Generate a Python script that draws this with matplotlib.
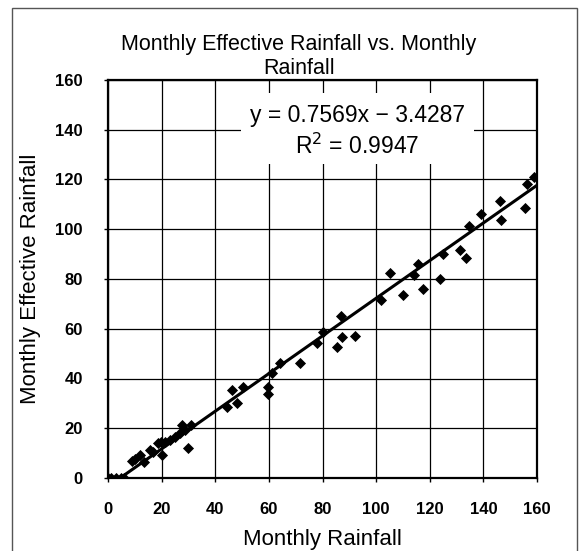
import matplotlib
matplotlib.use("Agg")
import matplotlib.pyplot as plt
from matplotlib.patches import Rectangle
import numpy as np

plt.rcParams['font.family'] = ['Liberation Sans', 'DejaVu Sans']

# Data (Monthly Rainfall vs Monthly Effective Rainfall)
rainfall = [0, 1, 3, 5, 6,
            8.8, 10.1, 11.9, 13.5, 15.7, 16.8, 18.8, 19.8, 20.0, 21.3, 23.1, 25.0, 26.9, 27.5, 28.7, 30.0, 30.8,
            44.3, 46.1, 48.0, 50.5, 59.8, 59.8, 61.1, 64.2, 71.6, 77.9, 80.0,
            85.4, 86.8, 87.2, 92.2, 101.9, 105.0, 110.0, 114.3, 115.8, 117.4, 123.7,
            124.9, 131.1, 133.5, 134.8, 139.2, 146.3, 146.6, 155.6, 156.2, 158.9]
effective = [0, 0, 0, 0, 0,
             6.8, 7.5, 9.2, 6.5, 11.2, 10.5, 13.9, 14.6, 9.2, 14.6, 15.3, 16.6, 18.0, 21.3, 19.3, 11.9, 21.3,
             28.6, 35.3, 30.0, 36.4, 36.7, 33.7, 42.3, 46.1, 46.3, 54.1, 58.6,
             52.7, 65.1, 56.7, 57.0, 71.5, 82.6, 73.5, 81.5, 86.2, 75.8, 80.2,
             90.2, 91.8, 88.6, 101.3, 106.0, 111.2, 103.9, 108.6, 118.1, 121.0]
slope = 0.7569
intercept = -3.4287
r2 = 0.9947
ticks = [0, 20, 40, 60, 80, 100, 120, 140, 160]

fig = plt.figure(figsize=(5.81, 5.51), dpi=100)
ax = fig.add_axes([108/581, 1-478/551, (537-108)/581, (478-80)/551])

ax.scatter(rainfall, effective, marker='D', s=32, color='black', zorder=3, linewidths=0)
xl = np.array([0, 160])
ax.plot(xl, slope*xl + intercept, color='black', lw=2.2, zorder=4)

ax.set_xlim(0, 160)
ax.set_ylim(0, 160)
ax.set_xticks(ticks)
ax.set_yticks(ticks)
ax.grid(True, color='black', lw=0.9)
ax.set_axisbelow(True)
for s in ax.spines.values():
    s.set_linewidth(1.6)
ax.tick_params(direction='out', length=3, width=1, labelsize=12)
ax.tick_params(axis='y', pad=15)
ax.tick_params(axis='x', pad=14)
for lab in ax.get_xticklabels() + ax.get_yticklabels():
    lab.set_fontweight('bold')

ax.set_xlabel('Monthly Rainfall', fontsize=16, labelpad=9)
ax.set_ylabel('Monthly Effective Rainfall', fontsize=16, labelpad=10)

# chart title, centred on the chart area (as in the reference)
fig.text(299/581, 1-74/551, 'Monthly Effective Rainfall vs. Monthly\nRainfall', fontsize=15.5,
         ha='center', va='baseline', linespacing=1.2, multialignment='center')

# white background box behind the trendline equation
ax.add_patch(Rectangle((49.6, 126.1), 87.0, 28.5, facecolor='white', edgecolor='none', zorder=2.5))
ax.text(93.0, 139.4, 'y = 0.7569x − 3.4287\nR$^2$ = 0.9947', fontsize=16.5, ha='center', va='center',
        linespacing=1.35, zorder=5)

fig.patches.append(Rectangle((12/581, -0.01), (577-12)/581, 1-8/551+0.01, transform=fig.transFigure,
                             fill=False, edgecolor='#555555', lw=1))

fig.savefig('out.png', dpi=100)
